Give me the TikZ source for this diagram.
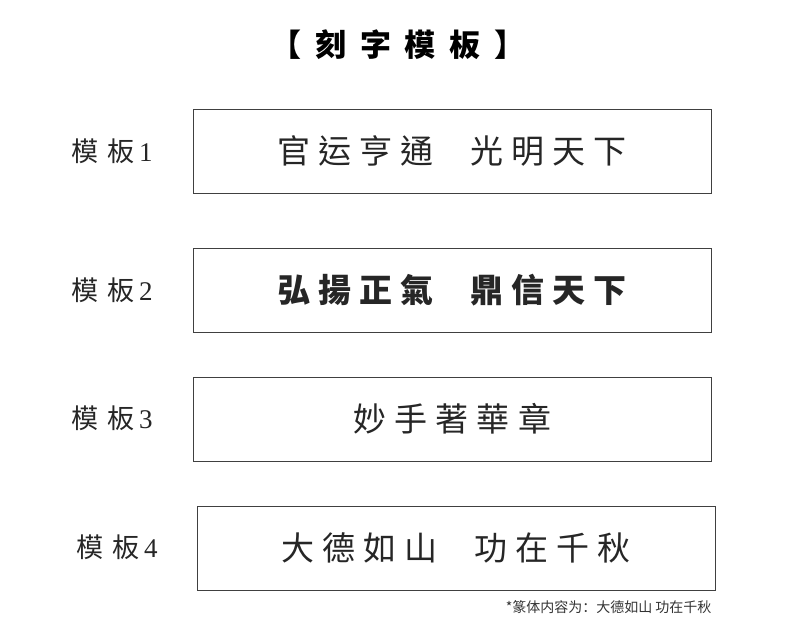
\documentclass[tikz,border=0pt]{standalone}
\usepackage{fontspec}
\newfontfamily\cjk[LetterSpace=25]{Noto Sans CJK TC}
\newfontfamily\cjklabel[LetterSpace=35]{Noto Sans CJK TC}
\newfontfamily\cjkwide[LetterSpace=45]{Noto Sans CJK TC}
\newfontfamily\cjknote{Noto Sans CJK SC}
\setmainfont{Liberation Serif}
\tikzset{
  platebox/.style={draw=black!75,line width=0.8pt,minimum width=518pt,minimum height=84pt,inner sep=0pt},
  platetext/.style={font=\cjk\fontsize{33}{33}\selectfont,text=black!85},
  platelabel/.style={font=\fontsize{27}{27}\selectfont,text=black!85},
}
\newcommand{\plategap}{\kern1.1em}
\begin{document}
\begin{tikzpicture}[x=1pt,y=-1pt]
  \useasboundingbox[fill=white] (0,0) rectangle (790,638);
  % title
  \node (title) at (398,45) {\fontsize{31}{31}\selectfont\cjkwide\bfseries 【刻字模板】};
  % plates
  \node[platebox] (p1) at (452,151) {};
  \node[platebox] (p2) at (452,290) {};
  \node[platebox] (p3) at (452,419) {};
  \node[platebox] (p4) at (456,548) {};
  \node[platetext] at (p1) {官运亨通\plategap 光明天下};
  \node[platetext] at (p2) {\bfseries 弘揚正氣\plategap 鼎信天下};
  \node[platetext] at (p3) {妙手著華章};
  \node[platetext] at (p4) {大德如山\plategap 功在千秋};
  % labels
  \node[platelabel] (l1) at (112,151) {{\cjklabel 模板}\kern0.15em 1};
  \node[platelabel] (l2) at (112,290) {{\cjklabel 模板}\kern0.15em 2};
  \node[platelabel] (l3) at (112,418) {{\cjklabel 模板}\kern0.15em 3};
  \node[platelabel] (l4) at (117,547) {{\cjklabel 模板}\kern0.15em 4};
  % note
  \node[anchor=east,font=\cjknote\fontsize{14}{14}\selectfont,text=black!80] (note) at (715,607) {*篆体内容为：大德如山 功在千秋};
\end{tikzpicture}
\end{document}
